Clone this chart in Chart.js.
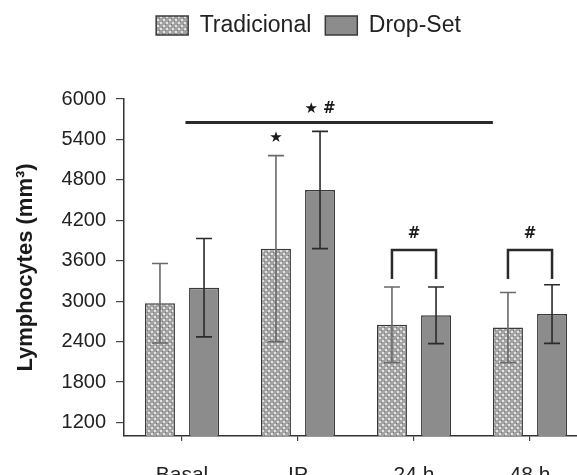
<!DOCTYPE html>
<html>
<head>
<meta charset="utf-8">
<script src="https://cdn.jsdelivr.net/npm/chart.js@4.4.0/dist/chart.umd.min.js"></script>
<style>
  html, body { margin: 0; padding: 0; background: #fff; overflow: hidden; }
  #wrap { width: 592px; height: 475px; }
</style>
</head>
<body>
<div id="wrap"><canvas id="grafico" width="592" height="475"></canvas></div>
<script>
// dados
const categorias = ['Basal', 'IP', '24 h', '48 h'];
const tradicionalMedia = [2970, 3780, 2650, 2610];
const tradicionalDP = [590, 1380, 560, 520];
const dropSetMedia = [3200, 4650, 2790, 2810];
const dropSetDP = [730, 870, 420, 435];
const ticksY = [1200, 1800, 2400, 3000, 3600, 4200, 4800, 5400, 6000];
const yMin = 1000;
const yMax = 6000;

// anotações (posição em índice de categoria / valor do eixo)
const linhaGeral = { de: 0.03, ate: 2.68, valor: 5650 };
const textoGeral = { pos: 1.19, valor: 5850, texto: '\u2605 #' };
const estrelaIP = { cat: 1, valor: 5420, texto: '\u2605' };
const colchetes = [
    { cat: 2, topo: 3760, base: 3330, valorTexto: 4000, texto: '#' },
    { cat: 3, topo: 3760, base: 3330, valorTexto: 4000, texto: '#' }
];

const fonte = '"Liberation Sans", Arial, sans-serif';

// textura pontilhada p/ barras "Tradicional"
function padraoPontilhado() {
    const c = document.createElement('canvas');
    c.width = 6;
    c.height = 6;
    const g = c.getContext('2d');
    g.fillStyle = '#a3a3a3';
    g.fillRect(0, 0, 6, 6);
    g.fillStyle = '#7c7c7c';
    g.fillRect(0, 3, 1, 1);
    g.fillRect(3, 0, 1, 1);
    g.fillStyle = '#e4e4e4';
    g.fillRect(1, 1, 2, 2);
    g.fillRect(4, 4, 2, 2);
    return g.createPattern(c, 'repeat');
}

// espaço extra abaixo da legenda
const espacoLegenda = {
    id: 'espacoLegenda',
    beforeInit(chart) {
        const fitOriginal = chart.legend.fit;
        chart.legend.fit = function() {
            fitOriginal.bind(chart.legend)();
            this.height += 52;
        };
    },
    afterLayout(chart) {
        chart.legend.left += 9;
        chart.legend.right += 9;
    }
};

// barras de erro + anotações de significância
const barrasErro = {
    id: 'barrasErro',
    afterDatasetsDraw(chart) {
        const ctx = chart.ctx;
        const y = chart.scales.y;
        const x = chart.scales.x;
        const series = [
            { media: tradicionalMedia, dp: tradicionalDP, cor: '#6a6a6a' },
            { media: dropSetMedia, dp: dropSetDP, cor: '#2b2b2b' }
        ];
        ctx.save();
        series.forEach(function(s, i) {
            chart.getDatasetMeta(i).data.forEach(function(barra, j) {
                const yTopo = y.getPixelForValue(s.media[j] + s.dp[j]);
                const yBase = y.getPixelForValue(s.media[j] - s.dp[j]);
                ctx.strokeStyle = s.cor;
                ctx.lineWidth = 1.6;
                ctx.beginPath();
                ctx.moveTo(barra.x, yTopo);
                ctx.lineTo(barra.x, yBase);
                ctx.moveTo(barra.x - 8, yTopo);
                ctx.lineTo(barra.x + 8, yTopo);
                ctx.moveTo(barra.x - 8, yBase);
                ctx.lineTo(barra.x + 8, yBase);
                ctx.stroke();
            });
        });

        ctx.strokeStyle = '#2a2a2a';
        ctx.fillStyle = '#1a1a1a';
        ctx.lineWidth = 3;
        ctx.beginPath();
        ctx.moveTo(x.getPixelForValue(linhaGeral.de), y.getPixelForValue(linhaGeral.valor));
        ctx.lineTo(x.getPixelForValue(linhaGeral.ate), y.getPixelForValue(linhaGeral.valor));
        ctx.stroke();

        ctx.textAlign = 'center';
        ctx.textBaseline = 'middle';
        ctx.font = 'bold 15px "DejaVu Sans", sans-serif';
        ctx.fillText(textoGeral.texto, x.getPixelForValue(textoGeral.pos), y.getPixelForValue(textoGeral.valor));
        const barraIP = chart.getDatasetMeta(0).data[estrelaIP.cat];
        ctx.fillText(estrelaIP.texto, barraIP.x, y.getPixelForValue(estrelaIP.valor));

        ctx.lineWidth = 2.5;
        colchetes.forEach(function(c) {
            const x1 = chart.getDatasetMeta(0).data[c.cat].x;
            const x2 = chart.getDatasetMeta(1).data[c.cat].x;
            const yT = y.getPixelForValue(c.topo);
            const yB = y.getPixelForValue(c.base);
            ctx.beginPath();
            ctx.moveTo(x1, yB);
            ctx.lineTo(x1, yT);
            ctx.lineTo(x2, yT);
            ctx.lineTo(x2, yB);
            ctx.stroke();
            ctx.fillText(c.texto, (x1 + x2) / 2, y.getPixelForValue(c.valorTexto));
        });
        ctx.restore();
    }
};

const ctx = document.getElementById('grafico').getContext('2d');
const grafico = new Chart(ctx, {
    type: 'bar',
    data: {
        labels: categorias,
        datasets: [{
            label: 'Tradicional',
            data: tradicionalMedia,
            backgroundColor: padraoPontilhado(),
            borderColor: '#3a3a3a',
            borderWidth: 1.5,
            borderSkipped: 'bottom'
        }, {
            label: 'Drop-Set',
            data: dropSetMedia,
            backgroundColor: '#8c8c8c',
            borderColor: '#3a3a3a',
            borderWidth: 1.5,
            borderSkipped: 'bottom'
        }]
    },
    options: {
        responsive: false,
        animation: false,
        categoryPercentage: 0.76,
        barPercentage: 0.68,
        layout: { padding: { left: 11, right: 4, top: 0, bottom: 0 } },
        plugins: {
            legend: {
                labels: {
                    boxWidth: 32,
                    boxHeight: 19,
                    padding: 14,
                    color: '#222',
                    font: { family: fonte, size: 23 }
                }
            },
            tooltip: { enabled: false }
        },
        scales: {
            x: {
                grid: { display: true, drawOnChartArea: false, offset: false, tickLength: 5, color: '#444', lineWidth: 1.2 },
                border: { color: '#333', width: 1.5 },
                ticks: { padding: 22, color: '#222', font: { family: fonte, size: 21 } },
                afterFit(s) { s.height = 39; }
            },
            y: {
                min: yMin,
                max: yMax,
                afterBuildTicks(s) { s.ticks = ticksY.map(function(v) { return { value: v }; }); },
                grid: { drawOnChartArea: false, tickLength: 8, color: '#444', lineWidth: 1.2 },
                border: { color: '#333', width: 1.5 },
                ticks: {
                    padding: 10,
                    color: '#222',
                    font: { family: fonte, size: 20 },
                    callback: function(v) { return String(v); }
                },
                title: {
                    display: true,
                    text: 'Lymphocytes (mm\u00b3)',
                    color: '#1a1a1a',
                    font: { family: fonte, size: 22, weight: 'bold' },
                    padding: { top: 2, bottom: 21 }
                },
                afterFit(s) { s.width = 113; }
            }
        }
    },
    plugins: [espacoLegenda, barrasErro]
});
</script>
</body>
</html>
